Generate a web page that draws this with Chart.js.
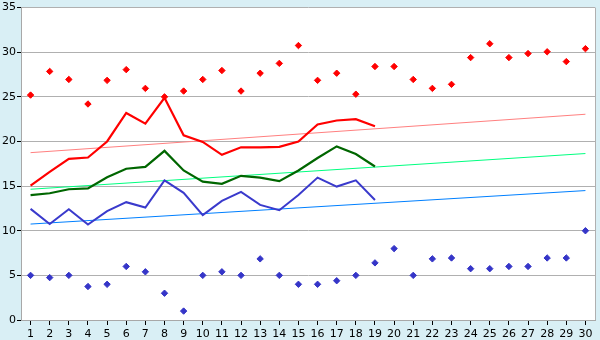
<!DOCTYPE html>
<html>
<head>
<meta charset="utf-8">
<script src="https://cdn.jsdelivr.net/npm/chart.js@4"></script>
<style>
  html, body { margin: 0; padding: 0; background: #d9eff5; }
  canvas { display: block; }
</style>
</head>
<body>
<canvas id="chart" width="600" height="340"></canvas>
<script>
// days of the month
const days = ['1','2','3','4','5','6','7','8','9','10','11','12','13','14','15',
              '16','17','18','19','20','21','22','23','24','25','26','27','28','29','30'];
const yTicks = [0, 5, 10, 15, 20, 25, 30, 35];

// scattered daily maxima / minima (diamonds)
const maxPoints = [25.2, 27.85, 26.95, 24.2, 26.85, 28.05, 25.95, 25.0, 25.65, 26.95,
                   27.95, 25.65, 27.65, 28.75, 30.75, 26.85, 27.65, 25.3, 28.4, 28.4,
                   26.95, 25.95, 26.4, 29.4, 30.95, 29.4, 29.85, 30.05, 28.95, 30.4];
const minPoints = [5, 4.75, 5, 3.75, 4, 6, 5.4, 3, 1, 5,
                   5.4, 5, 6.85, 5, 4, 4, 4.4, 5, 6.4, 8,
                   5, 6.85, 6.95, 5.75, 5.75, 6, 6, 6.95, 6.95, 10];

// lines (days 1-19)
const redLine   = [15.05, 16.6, 18.05, 18.2, 20.0, 23.2, 22.0, 24.9, 20.7, 19.95,
                   18.5, 19.35, 19.35, 19.4, 20.0, 21.9, 22.35, 22.5, 21.7];
const greenLine = [14.0, 14.2, 14.65, 14.75, 16.0, 16.95, 17.15, 18.95, 16.75, 15.5,
                   15.25, 16.15, 15.95, 15.55, 16.75, 18.15, 19.45, 18.6, 17.2];
const blueLine  = [12.45, 10.75, 12.4, 10.7, 12.2, 13.2, 12.6, 15.65, 14.25, 11.75,
                   13.35, 14.35, 12.9, 12.3, 14.0, 15.95, 14.95, 15.65, 13.45];

// trend lines: value on day 1 and on day 30
const redTrend   = [18.75, 23.05];
const greenTrend = [14.65, 18.65];
const blueTrend  = [10.75, 14.5];

function trend(ends) {
    const arr = days.map(() => null);
    arr[0] = ends[0];
    arr[arr.length - 1] = ends[1];
    return arr;
}

const frame = {
    id: 'frame',
    beforeDraw(chart) {
        const c = chart.ctx, a = chart.chartArea;
        c.save();
        c.fillStyle = '#d9eff5';
        c.fillRect(0, 0, chart.width, chart.height);
        c.fillStyle = '#ffffff';
        c.fillRect(a.left, a.top, a.right - a.left, a.bottom - a.top);
        c.restore();
    },
    afterDraw(chart) {
        const c = chart.ctx, a = chart.chartArea;
        c.save();
        c.strokeStyle = '#b0b0b0';
        c.lineWidth = 1;
        c.beginPath();
        c.moveTo(Math.round(a.right) + 0.5, a.top);
        c.lineTo(Math.round(a.right) + 0.5, a.bottom);
        c.stroke();
        c.restore();
    }
};

function lineSet(data, color, width, order) {
    return {
        type: 'line', data: data, borderColor: color, backgroundColor: color,
        borderWidth: width, pointRadius: 0, fill: false, tension: 0,
        spanGaps: true, order: order
    };
}
function dotSet(data, color) {
    return {
        type: 'line', data: data, showLine: false, pointStyle: 'rectRot',
        pointRadius: 3.2, pointBorderWidth: 1, borderColor: color,
        backgroundColor: color, order: 0
    };
}

new Chart(document.getElementById('chart'), {
    type: 'line',
    data: {
        labels: days,
        datasets: [
            dotSet(maxPoints, '#ff0000'),
            dotSet(minPoints, '#3535c8'),
            lineSet(redLine, '#ff0000', 2.2, 1),
            lineSet(greenLine, '#006600', 2.2, 1),
            lineSet(blueLine, '#3a3acc', 2, 1),
            lineSet(trend(redTrend), '#ff8080', 1, 2),
            lineSet(trend(greenTrend), '#00ff80', 1, 2),
            lineSet(trend(blueTrend), '#0080ff', 1, 2)
        ]
    },
    options: {
        responsive: false,
        animation: false,
        layout: { padding: { top: 5, right: 5, left: 0, bottom: 0 } },
        plugins: { legend: { display: false }, tooltip: { enabled: false } },
        scales: {
            x: {
                offset: true,
                grid: { offset: false, drawOnChartArea: false, tickLength: 5, tickColor: '#000000' },
                border: { color: '#a8a8a8' },
                ticks: { color: '#000', font: { family: 'DejaVu Sans', size: 11 }, padding: 3,
                         maxRotation: 0, autoSkip: false },
                afterFit(s) { s.height = 20; }
            },
            y: {
                min: 0, max: 35,
                afterBuildTicks(s) { s.ticks = yTicks.map(v => ({ value: v })); },
                grid: { color: '#b0b0b0', tickLength: 4, tickColor: '#000000' },
                border: { color: '#a8a8a8' },
                ticks: { color: '#000', font: { family: 'DejaVu Sans', size: 11 }, padding: 1 },
                afterFit(s) { s.width = 21; }
            }
        }
    },
    plugins: [frame]
});
</script>
</body>
</html>
